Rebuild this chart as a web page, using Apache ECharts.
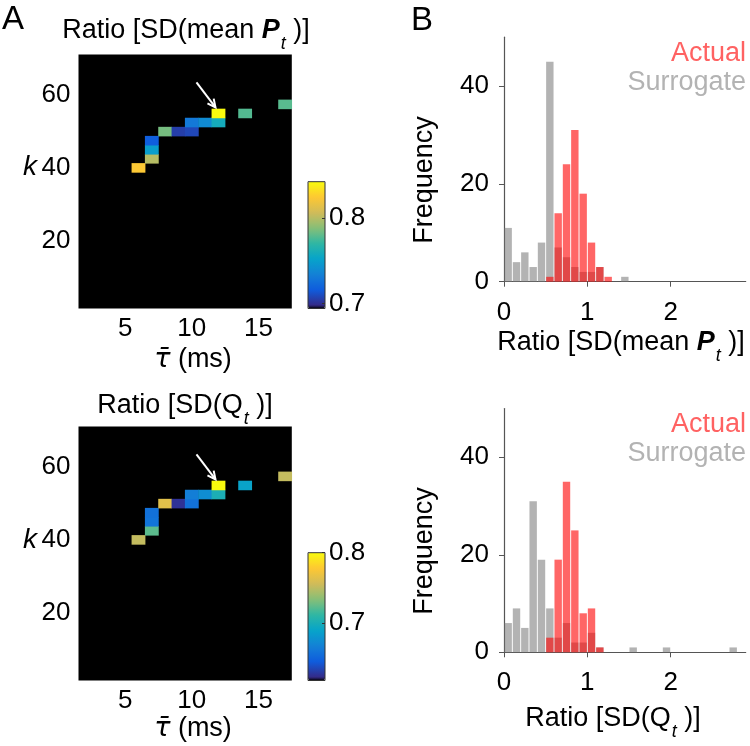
<!DOCTYPE html>
<html>
<head>
<meta charset="utf-8">
<script src="https://cdn.jsdelivr.net/npm/echarts@6/dist/echarts.min.js"></script>
<style>
  html, body { margin: 0; padding: 0; background: #fff; }
  #main { width: 750px; height: 746px; }
</style>
</head>
<body>
<div id="main"></div>
<script>
// heatmap axes (tau in ms, k)
var tauValues = [2, 3, 4, 5, 6, 7, 8, 9, 10, 11, 12, 13, 14, 15, 16, 17];
var kValues = [2.5, 5, 7.5, 10, 12.5, 15, 17.5, 20, 22.5, 25, 27.5, 30, 32.5, 35,
  37.5, 40, 42.5, 45, 47.5, 50, 52.5, 55, 57.5, 60, 62.5, 65, 67.5, 70];
var tauTicks = [5, 10, 15];
var kTicks = [20, 40, 60];

// coloured (non-black) cells
var cellTau = [6, 7, 7, 7, 8, 9, 10, 10, 11, 12, 12, 14, 17];
var cellK = [40, 42.5, 45, 47.5, 50, 50, 50, 52.5, 52.5, 52.5, 55, 55, 57.5];
var ratioMeanP = [0.824, 0.800, 0.749, 0.717, 0.785, 0.705, 0.708, 0.730, 0.739, 0.759, 0.843, 0.778, 0.779];
var ratioQ = [0.752, 0.723, 0.660, 0.658, 0.764, 0.627, 0.658, 0.666, 0.675, 0.702, 0.800, 0.690, 0.752];
var arrowTau = 12, arrowK = 55;

// colorbars
var cbarMeanP = [0.694, 0.843];
var cbarQ = [0.619, 0.800];
var cbarTicks = [0.7, 0.8];

// histograms, bins of 0.1 starting at 0
var binStart = 0, binWidth = 0.1;
var actualMeanP = [0, 0, 0, 0, 0, 1, 14, 24, 31, 18, 8, 3, 1];
var surrogateMeanP = [11, 4, 6, 3, 8, 45, 7, 5, 3, 2, 2, 3, 0, 0, 1];
var actualQ = [0, 0, 0, 0, 0, 3, 19, 35, 25, 8, 9, 1];
var surrogateQ = [6, 9, 5, 31, 19, 9, 3, 6, 2, 2, 4, 1, 0, 0, 0, 1, 0, 0, 0, 1,
  0, 0, 0, 0, 0, 0, 0, 1];
var histXTicks = [0, 1, 2];
var histYTicks = [0, 20, 40];

var FONT = 'Liberation Sans, Arial, sans-serif';
var parulaStops = ['#352a87', '#0f5cdd', '#1481d6', '#06a4ca', '#2eb7a4',
  '#87bf77', '#d1bb59', '#fec832', '#f9fb0e'];

function hexToRgb(h) {
  return [parseInt(h.substr(1, 2), 16), parseInt(h.substr(3, 2), 16), parseInt(h.substr(5, 2), 16)];
}
// black + parula, like colormap([0 0 0; parula])
function colormap(n) {
  var out = ['#000000'];
  for (var i = 0; i < n; i++) {
    var t = i / (n - 1) * (parulaStops.length - 1);
    var j = Math.min(Math.floor(t), parulaStops.length - 2);
    var f = t - j;
    var a = hexToRgb(parulaStops[j]), b = hexToRgb(parulaStops[j + 1]);
    var c = a.map(function (v, m) { return Math.round(v + (b[m] - v) * f); });
    out.push('rgb(' + c.join(',') + ')');
  }
  return out;
}
var cmap = colormap(40);

function cells(values) {
  return values.map(function (v, i) {
    return [tauValues.indexOf(cellTau[i]), kValues.indexOf(cellK[i]), v];
  });
}
function bins(counts) {
  var out = [];
  counts.forEach(function (c, i) {
    if (c > 0) out.push([binStart + (i + 0.5) * binWidth, c]);
  });
  return out;
}

var NUM = 26;
var tickStyle = { inside: true, length: 4, alignWithLabel: true, lineStyle: { color: '#bbb', width: 1 } };
function heatX(grid, pos, showLabel) {
  return {
    type: 'category', gridIndex: grid, position: pos, data: tauValues.map(String), z: 5,
    axisLine: { show: false },
    axisTick: Object.assign({ interval: function (i, v) { return tauTicks.indexOf(Number(v)) >= 0; } }, tickStyle),
    axisLabel: { show: showLabel, interval: function (i, v) { return tauTicks.indexOf(Number(v)) >= 0; },
      color: '#000', fontSize: NUM, fontFamily: FONT, margin: 7 },
    splitLine: { show: false }
  };
}
function heatY(grid, pos, showLabel) {
  return {
    type: 'category', gridIndex: grid, position: pos, data: kValues.map(String), z: 5,
    axisLine: { show: false },
    axisTick: Object.assign({ interval: function (i, v) { return kTicks.indexOf(Number(v)) >= 0; } }, tickStyle),
    axisLabel: { show: showLabel, interval: function (i, v) { return kTicks.indexOf(Number(v)) >= 0; },
      color: '#000', fontSize: NUM, fontFamily: FONT, margin: 8 },
    splitLine: { show: false }
  };
}
function cbarX(grid) {
  return { type: 'category', gridIndex: grid, data: [''], show: false };
}
function cbarY(grid, range) {
  return {
    type: 'value', gridIndex: grid, position: 'right', min: range[0], max: range[1], z: 10,
    axisLine: { show: false },
    axisTick: { show: true, inside: true, length: 3, customValues: cbarTicks, lineStyle: { color: '#333' } },
    axisLabel: { customValues: cbarTicks, formatter: function (v) { return v.toFixed(1); },
      color: '#000', fontSize: NUM, fontFamily: FONT, margin: 4 },
    splitLine: { show: false }
  };
}
function histX(grid) {
  return {
    type: 'value', gridIndex: grid, min: 0, max: 2.9, offset: 9,
    axisLine: { show: true, lineStyle: { color: '#555', width: 1.2 } },
    axisTick: { show: true, length: 5, customValues: histXTicks, lineStyle: { color: '#555' } },
    axisLabel: { customValues: histXTicks, color: '#000', fontSize: NUM, fontFamily: FONT, margin: 9 },
    splitLine: { show: false }
  };
}
function histY(grid) {
  return {
    type: 'value', gridIndex: grid, min: 0, max: 50, offset: 9,
    axisLine: { show: true, lineStyle: { color: '#555', width: 1.2 } },
    axisTick: { show: true, length: 5, customValues: histYTicks, lineStyle: { color: '#555' } },
    axisLabel: { customValues: histYTicks, color: '#000', fontSize: NUM, fontFamily: FONT, margin: 6 },
    splitLine: { show: false }
  };
}
function visual(series, range, top, height) {
  return {
    type: 'continuous', seriesIndex: series, min: range[0], max: range[1],
    inRange: { color: cmap }, orient: 'vertical', calculable: false, hoverLink: false,
    left: 308, top: top, itemWidth: 17, itemHeight: height, padding: 0
  };
}
function barSeries(x, counts, color) {
  return {
    type: 'bar', xAxisIndex: x, yAxisIndex: x, data: bins(counts),
    barWidth: 7.4, barGap: '-100%', itemStyle: { color: color }, silent: true
  };
}
var gray = 'rgba(128,128,128,0.6)', red = 'rgba(255,0,0,0.6)';

var option = {
  backgroundColor: '#fff',
  animation: false,
  grid: [
    { left: 78.5, top: 54.5, width: 213.3, height: 254, show: true, backgroundColor: '#000', borderWidth: 0 },
    { left: 308, top: 181.7, width: 17, height: 126.8, show: true, borderColor: '#333', borderWidth: 1, z: 6 },
    { left: 78.5, top: 426.5, width: 213.3, height: 254, show: true, backgroundColor: '#000', borderWidth: 0 },
    { left: 308, top: 552.7, width: 17, height: 127.8, show: true, borderColor: '#333', borderWidth: 1, z: 6 },
    { left: 504, top: 37.2, width: 241.7, height: 244.5 },
    { left: 504, top: 408.5, width: 241.7, height: 243.8 }
  ],
  xAxis: [heatX(0, 'bottom', true), heatX(0, 'top', false), cbarX(1),
    heatX(2, 'bottom', true), heatX(2, 'top', false), cbarX(3), histX(4), histX(5)],
  yAxis: [heatY(0, 'left', true), heatY(0, 'right', false), cbarY(1, cbarMeanP),
    heatY(2, 'left', true), heatY(2, 'right', false), cbarY(3, cbarQ), histY(4), histY(5)],
  visualMap: [visual(0, cbarMeanP, 181.7, 126.8), visual(1, cbarQ, 552.7, 127.8)],
  series: [
    { type: 'heatmap', xAxisIndex: 0, yAxisIndex: 0, data: cells(ratioMeanP), silent: true },
    { type: 'heatmap', xAxisIndex: 3, yAxisIndex: 3, data: cells(ratioQ), silent: true },
    barSeries(6, surrogateMeanP, gray), barSeries(6, actualMeanP, red),
    barSeries(7, surrogateQ, gray), barSeries(7, actualQ, red)
  ]
};

var chart = echarts.init(document.getElementById('main'));
chart.setOption(option);

var TXT = 27;
function txt(x, y, text, extra) {
  return {
    type: 'text', x: x, y: y, z: 20,
    style: Object.assign({ text: text, fill: '#000', font: TXT + 'px ' + FONT, align: 'center', verticalAlign: 'middle' }, extra || {})
  };
}
// subscript t: pushed down with top padding
var subRich = {
  p: { fontWeight: 'bold', fontStyle: 'italic', fontSize: TXT, fontFamily: FONT },
  s: { fontStyle: 'italic', fontSize: 18, fontFamily: FONT, lineHeight: 18, padding: [25, 0, 0, 1] }
};
function ratioLabel(x, y, meanP) {
  var t = meanP ? 'Ratio [SD(mean {p|P}{s|t} )]' : 'Ratio [SD(Q{s|t} )]';
  return txt(x, y, t, { rich: subRich, fontSize: TXT, fontFamily: FONT });
}
function arrow(xIdx, yIdx) {
  var c = chart.convertToPixel({ xAxisIndex: xIdx, yAxisIndex: yIdx },
    [tauValues.indexOf(arrowTau), kValues.indexOf(arrowK)]);
  var x1 = c[0] - 22, y1 = c[1] - 31, x2 = c[0] - 3, y2 = c[1] - 6;
  var ang = Math.atan2(y2 - y1, x2 - x1), L = 9, w = 0.45;
  var h1 = [x2 - L * Math.cos(ang - w), y2 - L * Math.sin(ang - w)];
  var h2 = [x2 - L * Math.cos(ang + w), y2 - L * Math.sin(ang + w)];
  return [
    { type: 'line', z: 20, shape: { x1: x1, y1: y1, x2: x2, y2: y2 }, style: { stroke: '#fff', lineWidth: 2 } },
    { type: 'polyline', z: 20, shape: { points: [h1, [x2, y2], h2] }, style: { stroke: '#fff', lineWidth: 2, fill: null } }
  ];
}
function freq(y) {
  return { type: 'text', x: 425, y: y, rotation: Math.PI / 2, z: 20,
    style: { text: 'Frequency', fill: '#000', font: TXT + 'px ' + FONT, align: 'center', verticalAlign: 'middle' } };
}

var tauLabel = '{i|τ\u0304} (ms)';
var tauRich = { i: { fontStyle: 'italic', fontSize: TXT, fontFamily: 'DejaVu Sans, ' + FONT } };
var graphics = [
  txt(2, 20, 'A', { font: '33px ' + FONT, align: 'left' }),
  txt(411, 21, 'B', { font: '33px ' + FONT, align: 'left' }),
  ratioLabel(186, 31, true),
  ratioLabel(185, 406, false),
  txt(30, 167, 'k', { font: 'italic 28px ' + FONT }),
  txt(30, 540, 'k', { font: 'italic 28px ' + FONT }),
  txt(193, 360, tauLabel, { rich: tauRich, fontSize: TXT, fontFamily: FONT }),
  txt(193, 729, tauLabel, { rich: tauRich, fontSize: TXT, fontFamily: FONT }),
  ratioLabel(621, 343, true),
  ratioLabel(613, 719, false),
  freq(180), freq(551),
  txt(746, 54, 'Actual', { fill: '#ff6262', align: 'right' }),
  txt(746, 83, 'Surrogate', { fill: '#b3b3b3', align: 'right' }),
  txt(746, 425, 'Actual', { fill: '#ff6262', align: 'right' }),
  txt(746, 454, 'Surrogate', { fill: '#b3b3b3', align: 'right' })
].concat(arrow(0, 0), arrow(3, 3));
chart.setOption({ graphic: graphics });
</script>
</body>
</html>
